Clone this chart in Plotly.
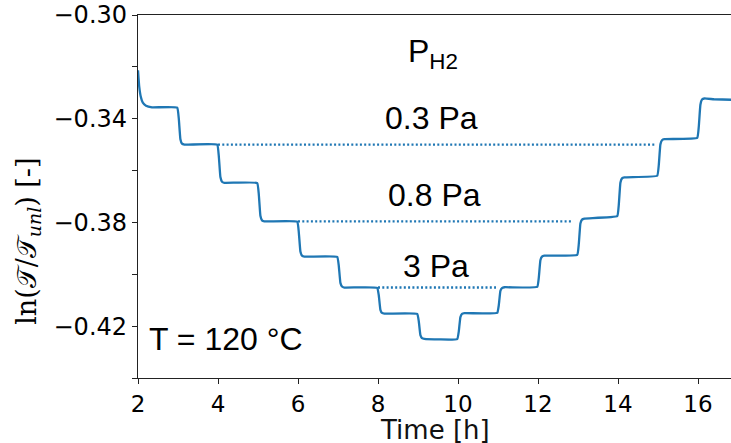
import plotly.graph_objects as go

time_h = [
    2.00, 2.03, 2.07, 2.12, 2.20, 2.35, 2.98,
    3.02, 3.06, 3.10, 3.16, 3.98,
    4.02, 4.06, 4.10, 4.16, 4.98,
    5.02, 5.06, 5.10, 5.16, 5.98,
    6.02, 6.06, 6.10, 6.16, 6.98,
    7.02, 7.06, 7.10, 7.16, 7.98,
    8.02, 8.06, 8.10, 8.16, 8.98,
    9.02, 9.06, 9.10, 9.16, 9.98,
    10.02, 10.06, 10.10, 10.16, 10.98,
    11.02, 11.06, 11.10, 11.16, 11.98,
    12.02, 12.06, 12.10, 12.16, 12.98,
    13.02, 13.06, 13.10, 13.16, 13.98,
    14.02, 14.06, 14.10, 14.16, 14.98,
    15.02, 15.06, 15.10, 15.16, 15.98,
    16.02, 16.06, 16.10, 16.16, 16.40, 16.85,
]
ln_ratio = [
    -0.3213, -0.3275, -0.3315, -0.3338, -0.3350, -0.3356, -0.3357,
    -0.3400, -0.3479, -0.3496, -0.3500, -0.3500,
    -0.3544, -0.3625, -0.3643, -0.3647, -0.3648,
    -0.3692, -0.3774, -0.3792, -0.3796, -0.3797,
    -0.3838, -0.3912, -0.3928, -0.3932, -0.3933,
    -0.3968, -0.4033, -0.4047, -0.4051, -0.4052,
    -0.4082, -0.4137, -0.4149, -0.4152, -0.4153,
    -0.4182, -0.4235, -0.4246, -0.4249, -0.4250,
    -0.4220, -0.4165, -0.4153, -0.4150, -0.4149,
    -0.4119, -0.4064, -0.4053, -0.4050, -0.4049,
    -0.4013, -0.3946, -0.3932, -0.3928, -0.3925,
    -0.3883, -0.3804, -0.3789, -0.3785, -0.3776,
    -0.3731, -0.3647, -0.3630, -0.3626, -0.3620,
    -0.3578, -0.3499, -0.3483, -0.3479, -0.3474,
    -0.3430, -0.3346, -0.3326, -0.3322, -0.3325, -0.3327,
]

# Reference (dotted) levels for each hydrogen pressure
pressure_labels = ["0.3 Pa", "0.8 Pa", "3 Pa"]
ref_level = [-0.3500, -0.3796, -0.4051]
ref_start = [4.0, 6.0, 8.0]
ref_end = [14.95, 12.88, 10.95]
label_x = [9.34, 9.41, 9.44]
label_y = [-0.3396, -0.3693, -0.3967]

x_ticks = [2, 4, 6, 8, 10, 12, 14, 16]
y_ticks = [-0.44, -0.42, -0.40, -0.38, -0.36, -0.34, -0.32, -0.30]
y_ticktext = ["", "\u22120.42", "", "\u22120.38", "", "\u22120.34", "", "\u22120.30"]

BLUE = "#1f77b4"
fig = go.Figure()

for lvl, xs, xe in zip(ref_level, ref_start, ref_end):
    fig.add_trace(go.Scatter(
        x=[xs, xe], y=[lvl, lvl], mode="lines",
        line=dict(color=BLUE, width=2.4, dash="2px,2.3px"),
        showlegend=False, hoverinfo="skip"))

fig.add_trace(go.Scatter(
    x=time_h, y=ln_ratio, mode="lines",
    line=dict(color=BLUE, width=2.3, shape="spline", smoothing=0.3),
    showlegend=False))

TXT = dict(family="Liberation Sans, Arial", size=32, color="black")
for lab, lx, ly in zip(pressure_labels, label_x, label_y):
    fig.add_annotation(x=lx, y=ly, xref="x", yref="y", text=lab,
                       showarrow=False, font=TXT, xanchor="center", yanchor="middle")

fig.add_annotation(x=9.375, y=-0.3150, xref="x", yref="y", text="P<sub>H2</sub>",
                   showarrow=False, font=TXT, xanchor="center", yanchor="middle")
fig.add_annotation(x=4.19, y=-0.4249, xref="x", yref="y", text="T = 120 \u00b0C",
                   showarrow=False, font=TXT, xanchor="center", yanchor="middle")

# y-axis label
fig.add_annotation(x=-0.186, y=0.377, xref="paper", yref="paper",
                   text="ln(\U0001D4AF/\U0001D4AF<sub><i>unl</i></sub>) [-]",
                   textangle=-90, showarrow=False,
                   font=dict(family="DejaVu Serif, Liberation Serif", size=27, color="black"),
                   xanchor="center", yanchor="middle")

# x-axis label
fig.add_annotation(x=0.5, y=-0.143, xref="paper", yref="paper", text="Time [h]",
                   showarrow=False,
                   font=dict(family="DejaVu Sans", size=26, color="#111"),
                   xanchor="center", yanchor="middle")

TICKFONT = dict(family="DejaVu Sans", size=23, color="black")
fig.update_layout(
    width=731, height=443,
    margin=dict(l=138, r=0, t=15, b=65, pad=0),
    plot_bgcolor="white", paper_bgcolor="white",
    xaxis=dict(range=[2, 16.825], tickvals=x_ticks, ticktext=[str(v) for v in x_ticks],
               ticks="outside", ticklen=5, tickwidth=1.1, tickcolor="#222",
               showline=True, linecolor="#222", linewidth=1.3, mirror=True,
               showgrid=False, zeroline=False, tickfont=TICKFONT),
    yaxis=dict(range=[-0.44, -0.30], tickvals=y_ticks, ticktext=y_ticktext,
               ticks="outside", ticklen=5, tickwidth=1.1, tickcolor="#222",
               showline=True, linecolor="#222", linewidth=1.3,
               showgrid=False, zeroline=False, tickfont=dict(family="DejaVu Sans", size=24, color="black")),
)

fig.write_html("out.html")
